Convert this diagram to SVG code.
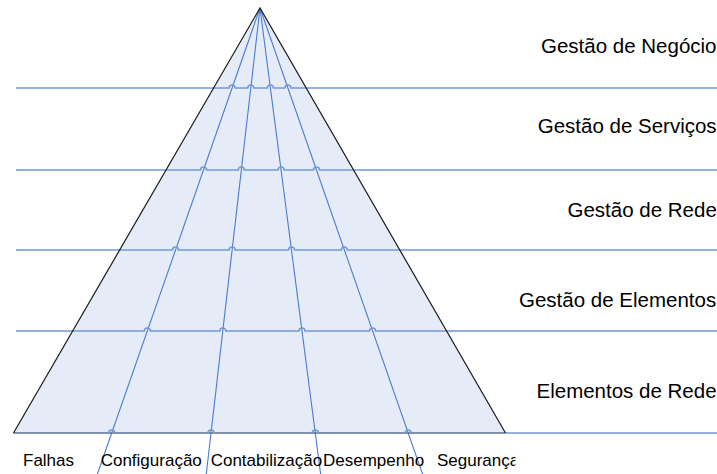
<svg xmlns="http://www.w3.org/2000/svg" width="717" height="474" viewBox="0 0 717 474">
  <defs>
    <style>
      .tri { fill: #e6ecf7; stroke: none; }
      .edge { stroke: #1a1a1a; stroke-width: 1.2; fill: none; }
      .base { stroke: #5d7291; stroke-width: 1.6; fill: none; }
      .level { stroke: #7199d6; stroke-width: 1.5; fill: none; }
      .ray { stroke: #4a7bd0; stroke-width: 1.1; fill: none; }
      .lvl-label { font-family: "Liberation Sans", Arial, sans-serif; font-size: 20.5px; fill: #000; }
      .fn-label { font-family: "Liberation Sans", Arial, sans-serif; font-size: 17px; fill: #000; }
    </style>
    <clipPath id="clip-seg"><rect x="430" y="440" width="85.5" height="34"/></clipPath>
  </defs>

  <rect width="717" height="474" fill="#ffffff"/>

  <!-- pyramid body -->
  <g id="pyramid">
    <polygon class="tri" points="260,8 13.5,433 505.5,433"/>
  </g>

  <!-- connectors: management levels and functional rays -->
  <g id="connectors">
    <!-- rays from apex to the functional areas -->
    <line class="ray" x1="260" y1="8" x2="97.4" y2="474"/>
    <line class="ray" x1="260" y1="8" x2="206.3" y2="474"/>
    <line class="ray" x1="260" y1="8" x2="320.6" y2="474"/>
    <line class="ray" x1="260" y1="8" x2="422.5" y2="474"/>

    <!-- horizontal level lines with line hops over the rays -->
    <path class="level" d="M16,88 H229.1 a3,3 0 0 1 6,0 H247.8 a3,3 0 0 1 6,0 H267.4 a3,3 0 0 1 6,0 H284.9 a3,3 0 0 1 6,0 H717"/>
    <path class="level" d="M16,170 H200.5 a3,3 0 0 1 6,0 H238.3 a3,3 0 0 1 6,0 H278.1 a3,3 0 0 1 6,0 H313.5 a3,3 0 0 1 6,0 H717"/>
    <path class="level" d="M16,250 H172.5 a3,3 0 0 1 6,0 H229.1 a3,3 0 0 1 6,0 H288.5 a3,3 0 0 1 6,0 H341.4 a3,3 0 0 1 6,0 H717"/>
    <path class="level" d="M16,331 H144.3 a3,3 0 0 1 6,0 H219.8 a3,3 0 0 1 6,0 H299 a3,3 0 0 1 6,0 H369.6 a3,3 0 0 1 6,0 H717"/>
    <path class="level" d="M505.5,433 H717"/>
    <path class="base" d="M13.5,433 H505.5"/>
    <path class="level" d="M108.7,433 a3,3 0 0 1 6,0 M208,433 a3,3 0 0 1 6,0 M312.3,433 a3,3 0 0 1 6,0 M405.2,433 a3,3 0 0 1 6,0"/>
  </g>

  <!-- pyramid outline sides -->
  <g id="pyramid-edges">
    <polyline class="edge" points="13.5,433 260,8 505.5,433"/>
  </g>

  <!-- management level labels -->
  <g id="level-negocio"><text class="lvl-label" x="541" y="53.3">Gestão de Negócio</text></g>
  <g id="level-servicos"><text class="lvl-label" x="537.7" y="132.5">Gestão de Serviços</text></g>
  <g id="level-rede"><text class="lvl-label" x="567.5" y="216.7">Gestão de Rede</text></g>
  <g id="level-elementos"><text class="lvl-label" x="519" y="306.7">Gestão de Elementos</text></g>
  <g id="level-elementos-rede"><text class="lvl-label" x="536.5" y="398.3">Elementos de Rede</text></g>

  <!-- functional area labels -->
  <g id="fn-falhas"><text class="fn-label" x="23" y="465.7">Falhas</text></g>
  <g id="fn-configuracao"><text class="fn-label" x="100.7" y="465.7">Configuração</text></g>
  <g id="fn-contabilizacao"><text class="fn-label" x="210.7" y="465.7">Contabilização</text></g>
  <g id="fn-desempenho"><text class="fn-label" x="323" y="465.7">Desempenho</text></g>
  <g id="fn-seguranca"><text class="fn-label" x="437" y="465.7" clip-path="url(#clip-seg)">Segurança</text></g>
</svg>
